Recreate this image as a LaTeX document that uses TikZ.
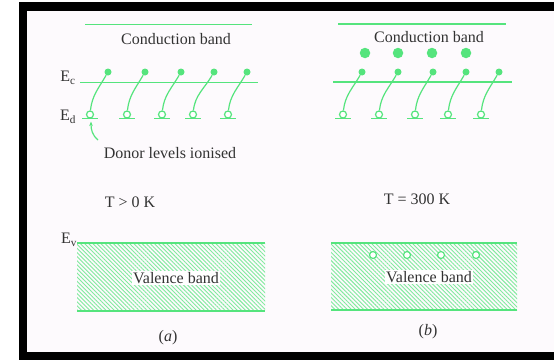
\documentclass[tikz,border=0pt]{standalone}
\usepackage{fontspec}
\setmainfont{Liberation Serif}
\usetikzlibrary{patterns.meta,arrows.meta}
\definecolor{bandgreen}{RGB}{85,228,125}
\definecolor{inkgray}{RGB}{50,50,50}
\definecolor{paper}{RGB}{253,250,253}

\begin{document}
\begin{tikzpicture}[x=1pt, y=1pt, font=\fontsize{16}{19}\selectfont,
    level/.style={bandgreen, line width=1.7pt},
    electron/.style={circle, fill=bandgreen, inner sep=0pt, minimum size=7pt},
    freeelec/.style={circle, fill=bandgreen, inner sep=0pt, minimum size=10.5pt},
    donor/.style={circle, draw=bandgreen, fill=white, line width=1.2pt, inner sep=0pt, minimum size=7pt},
    hop/.style={bandgreen, line width=1.2pt},
    valence/.style={pattern={Lines[angle=-45, distance=2.9pt, line width=0.9pt]}, pattern color=bandgreen!75},
    lbl/.style={text=inkgray}]
    \useasboundingbox (0,0) rectangle (554,360);

    % page and black frame
    \fill[white] (0,0) rectangle (554,360);
    \fill[paper] (27,8) rectangle (554,349);
    \fill[black] (19,0) rectangle (27,358);
    \fill[black] (19,349) rectangle (554,358);
    \fill[black] (19,0) rectangle (554,8);

    % (a) conduction band and levels
    \draw[level] (85,335.5) -- (252,335.5);
    \node[lbl] (cba) at (176,321) {Conduction band};
    \draw[level] (80,277.5) -- (258,277.5);
    \node[lbl] (eca) at (68,282) {E\textsubscript{c}};
    \node[lbl] (eda) at (68,243) {E\textsubscript{d}};

    % (a) ionised donors
    \foreach \i/\dx/\ex in {1/90/108, 2/127/145, 3/162/181, 4/193/214, 5/228/247} {
        \draw[level] (\dx-8,241.5) -- (\dx+8,241.5);
        \node[donor] (da\i) at (\dx,245.5) {};
        \node[electron] (ea\i) at (\ex,288) {};
        \draw[hop] (da\i) to[out=84, in=240] (ea\i);
    }
    \node[lbl] (ion) at (170,207) {Donor levels ionised};
    \coordinate (ionfoot) at (98,220);
    \coordinate (iontip) at (91,238.5);
    \draw[hop, -{Stealth[length=4.5pt, width=3.5pt]}] (ionfoot) to[out=140, in=-90] (iontip);
    \node[lbl] (ta) at (130,158) {T > 0 K};

    % (a) valence band
    \fill[valence] (77,49) rectangle (265,117);
    \draw[level] (77,117) -- (265,117);
    \draw[level] (77,49) -- (265,49);
    \node[lbl] (eva) at (69,120) {E\textsubscript{v}};
    \node[lbl, fill=white, inner sep=1.5pt] (vba) at (176,82) {Valence band};
    \node[lbl] (capa) at (168,22) {(\textit{a})};

    % (b) conduction band and levels
    \draw[level] (338,336) -- (506,336);
    \node[lbl] (cbb) at (429,323) {Conduction band};
    \foreach \i/\fx in {1/365, 2/398, 3/432, 4/466}
        \node[freeelec] (fb\i) at (\fx,307) {};
    \draw[level] (333,278) -- (512,278);

    % (b) ionised donors
    \foreach \i/\dx/\ex in {1/343/362, 2/379/398, 3/415/433, 4/448/466, 5/481/499} {
        \draw[level] (\dx-8,241.5) -- (\dx+8,241.5);
        \node[donor] (db\i) at (\dx,245.5) {};
        \node[electron] (eb\i) at (\ex,288) {};
        \draw[hop] (db\i) to[out=84, in=240] (eb\i);
    }
    \node[lbl] (tb) at (417,161) {T = 300 K};

    % (b) valence band with holes
    \fill[valence] (331,50) rectangle (517,117);
    \draw[level] (331,117) -- (517,117);
    \draw[level] (331,50) -- (517,50);
    \foreach \i/\hx in {1/373, 2/407, 3/441, 4/476}
        \node[donor] (hb\i) at (\hx,105) {};
    \node[lbl, fill=white, inner sep=1.5pt] (vbb) at (429,83) {Valence band};
    \node[lbl] (capb) at (428,28) {(\textit{b})};

\end{tikzpicture}
\end{document}
